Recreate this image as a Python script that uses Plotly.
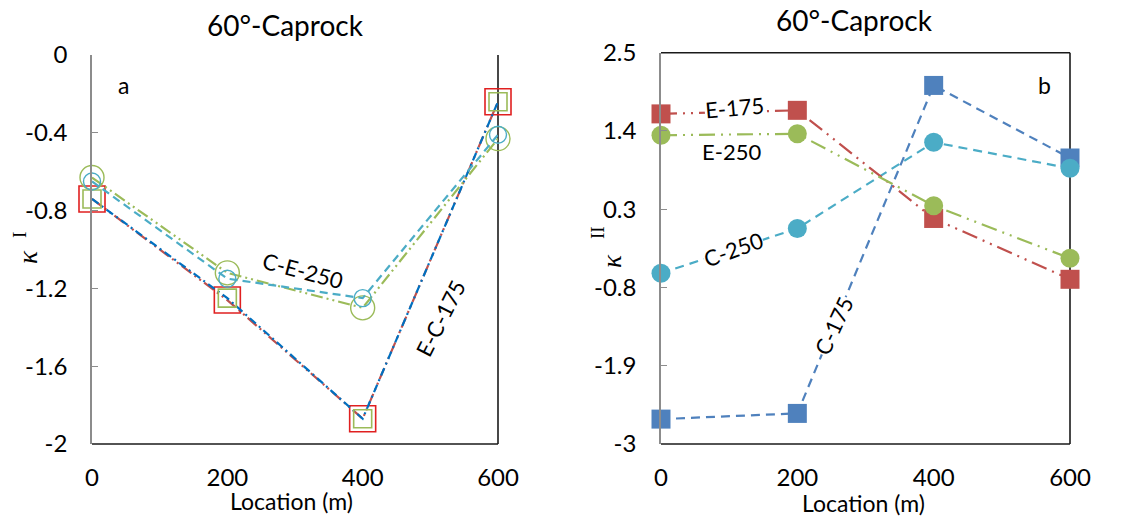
import plotly.graph_objects as go

W, H = 1137, 519

locations = [0, 200, 400, 600]
x_ticks = [0, 200, 400, 600]

# Panel a: kappa I along the profile
a_e175 = [-0.74, -1.26, -1.87, -0.24]
a_c175 = [-0.74, -1.25, -1.87, -0.24]
a_e250 = [-0.63, -1.12, -1.30, -0.43]
a_c250 = [-0.65, -1.15, -1.25, -0.41]
a_yticks = [-2, -1.6, -1.2, -0.8, -0.4, 0]
a_yticktext = ["-2", "-1.6", "-1.2", "-0.8", "-0.4", "0"]

# Panel b: kappa II along the profile
b_c175 = [-2.65, -2.57, 2.04, 1.02]
b_c250 = [-0.60, 0.03, 1.24, 0.875]
b_e175 = [1.64, 1.69, 0.17, -0.685]
b_e250 = [1.34, 1.36, 0.35, -0.39]
b_yticks = [-3, -1.9, -0.8, 0.3, 1.4, 2.5]
b_yticktext = ["-3", "-1.9", "-0.8", "0.3", "1.4", "2.5"]

RED = "#C0504D"
GREEN = "#9BBB59"
CYAN = "#4BACC6"
BLUE_A = "#0070C0"
BLUE_B = "#4F81BD"
GREY = "#8C8C8C"
FONT = "Lato"
SERIF = "Liberation Serif"


def px(x):
    return x / W


def py(y):
    return 1 - y / H


a_dom_x = [px(92), px(498)]
a_dom_y = [py(444), py(55)]
b_dom_x = [px(661), px(1070)]
b_dom_y = [py(444), py(52.7)]

fig = go.Figure()

# ---- panel a traces (hollow markers) ----
fig.add_trace(go.Scatter(
    x=locations, y=a_e175, xaxis="x", yaxis="y", mode="lines+markers",
    line=dict(color=RED, width=2.2, dash="12px,4px,2px,4px,2px,4px"),
    marker=dict(symbol="square-open", size=26, color="#E02020", line=dict(width=1.6)),
    cliponaxis=False, showlegend=False))
fig.add_trace(go.Scatter(
    x=locations, y=a_c175, xaxis="x", yaxis="y", mode="lines+markers",
    line=dict(color=BLUE_A, width=2.2, dash="8px,4px,2px,4px"),
    marker=dict(symbol="square-open", size=18, color=GREEN, line=dict(width=1.6)),
    cliponaxis=False, showlegend=False))
fig.add_trace(go.Scatter(
    x=locations, y=a_e250, xaxis="x", yaxis="y", mode="lines+markers",
    line=dict(color=GREEN, width=2.2, dash="12px,4px,2px,4px,2px,4px"),
    marker=dict(symbol="circle-open", size=24, color=GREEN, line=dict(width=1.4)),
    cliponaxis=False, showlegend=False))
fig.add_trace(go.Scatter(
    x=locations, y=a_c250, xaxis="x", yaxis="y", mode="lines+markers",
    line=dict(color=CYAN, width=2.2, dash="8px,5px"),
    marker=dict(symbol="circle-open", size=17, color=CYAN, line=dict(width=1.4)),
    cliponaxis=False, showlegend=False))

# ---- panel b traces (filled markers) ----
fig.add_trace(go.Scatter(
    x=locations, y=b_c175, xaxis="x2", yaxis="y2", mode="lines+markers",
    line=dict(color=BLUE_B, width=2.2, dash="9px,6px"),
    marker=dict(symbol="square", size=19, color=BLUE_B),
    cliponaxis=False, showlegend=False))
fig.add_trace(go.Scatter(
    x=locations, y=b_c250, xaxis="x2", yaxis="y2", mode="lines+markers",
    line=dict(color=CYAN, width=2.2, dash="9px,6px"),
    marker=dict(symbol="circle", size=19, color=CYAN),
    cliponaxis=False, showlegend=False))
fig.add_trace(go.Scatter(
    x=locations, y=b_e175, xaxis="x2", yaxis="y2", mode="lines+markers",
    line=dict(color=RED, width=2.2, dash="16px,6px,2px,6px,2px,6px"),
    marker=dict(symbol="square", size=19, color=RED),
    cliponaxis=False, showlegend=False))
fig.add_trace(go.Scatter(
    x=locations, y=b_e250, xaxis="x2", yaxis="y2", mode="lines+markers",
    line=dict(color=GREEN, width=2.2, dash="16px,6px,2px,6px,2px,6px"),
    marker=dict(symbol="circle", size=19, color=GREEN),
    cliponaxis=False, showlegend=False))

tickfont = dict(family=FONT, size=24, color="black")

common_x = dict(range=[0, 600], tickvals=x_ticks, showgrid=False, zeroline=False,
                showline=False, ticks="", tickfont=tickfont, ticklabelstandoff=17,
                automargin=False, fixedrange=True)
common_y = dict(showgrid=False, zeroline=False, showline=True, linecolor=GREY,
                linewidth=1.5, ticks="inside", ticklen=6, tickcolor=GREY,
                tickfont=tickfont, ticklabelstandoff=18, automargin=False,
                fixedrange=True)
zero_x = dict(range=[0, 600], tickvals=x_ticks, ticklen=6, tickcolor=GREY,
              showline=True, linecolor=GREY, linewidth=1.5, showticklabels=False,
              showgrid=False, zeroline=False, automargin=False, fixedrange=True)

# zero-crossing position of the horizontal axis in panel b (paper units)
b_zero = b_dom_y[0] + (0 - (-3)) / (2.5 - (-3)) * (b_dom_y[1] - b_dom_y[0])

fig.update_layout(
    width=W, height=H,
    margin=dict(l=0, r=0, t=0, b=0, autoexpand=False),
    paper_bgcolor="white", plot_bgcolor="white",
    font=dict(family=FONT, color="black"),
    xaxis=dict(domain=a_dom_x, anchor="y", **common_x),
    yaxis=dict(domain=a_dom_y, anchor="x", range=[-2, 0], tickvals=a_yticks,
               ticktext=a_yticktext, **common_y),
    xaxis2=dict(domain=b_dom_x, anchor="y2", **common_x),
    yaxis2=dict(domain=b_dom_y, anchor="x2", range=[-3, 2.5], tickvals=b_yticks,
                ticktext=b_yticktext, **common_y),
    # grey horizontal axis lines crossing at zero
    xaxis3=dict(overlaying="x", anchor="y", side="top", ticks="inside", **zero_x),
    xaxis4=dict(overlaying="x2", anchor="free", position=b_zero, side="bottom",
                ticks="outside", **zero_x),
)

# dark frame edges of the plot areas
frame = dict(type="line", line=dict(color="#1A1A1A", width=1.6), layer="below")
for xr, yr, top in (("x domain", "y domain", False), ("x2 domain", "y2 domain", True)):
    fig.add_shape(xref=xr, yref=yr, x0=0, x1=1, y0=0, y1=0, **frame)
    fig.add_shape(xref=xr, yref=yr, x0=1, x1=1, y0=0, y1=1, **frame)
    if top:
        fig.add_shape(xref=xr, yref=yr, x0=0, x1=1, y0=1, y1=1, **frame)


def note(text, x, y, size=21, angle=0, bg=None, family=FONT):
    fig.add_annotation(
        text=text, xref="paper", yref="paper", x=px(x), y=py(y),
        xanchor="center", yanchor="middle", showarrow=False, textangle=angle,
        font=dict(family=family, size=size, color="black"),
        bgcolor=bg, borderpad=0)


# titles
note("60°-Caprock", 285, 25, size=28)
note("60°-Caprock", 855, 20, size=28)

# axis titles
note("Location (m)", 291, 501, size=23)
note("Location (m)", 864, 503, size=23)
note("<i>κ</i>", 28, 257, size=27, angle=-90, family=SERIF)
note("I", 19, 235, size=19, angle=-90, family=SERIF)
note("<i>κ</i>", 612, 261, size=27, angle=-90, family=SERIF)
note("II", 597, 233, size=19, angle=-90, family=SERIF)

# panel tags
note("a", 123, 85, size=23)
note("b", 1044, 85, size=23)

# series labels, panel a
note("C-E-250", 303, 270, size=22, angle=15)
note("E-C-175", 440, 318, size=22, angle=-63)

# series labels, panel b
note("E-175", 734, 107, size=22, angle=-5, bg="white")
note("E-250", 731, 151, size=22, bg="white")
note("C-250", 733, 250, size=22, angle=-20, bg="white")
note("C-175", 833, 326, size=22, angle=-65, bg="white")

fig.write_html("out.html")
